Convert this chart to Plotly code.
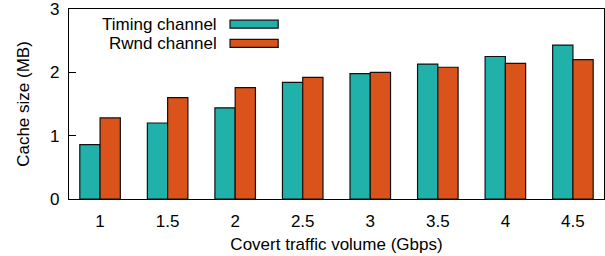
import plotly.graph_objects as go

categories = ["1", "1.5", "2", "2.5", "3", "3.5", "4", "4.5"]
timing_values = [0.86, 1.20, 1.44, 1.84, 1.98, 2.13, 2.25, 2.43]
rwnd_values = [1.28, 1.60, 1.76, 1.92, 2.00, 2.08, 2.14, 2.20]
series_names = ["Timing channel", "Rwnd channel"]
series_colors = ["#20B2AA", "#D9531A"]
y_ticks = [0, 1, 2, 3]

FONT = "Liberation Sans, Arial, Helvetica, sans-serif"

fig = go.Figure()
for name, vals, col in zip(series_names, [timing_values, rwnd_values], series_colors):
    fig.add_trace(go.Bar(
        x=categories, y=vals, name=name,
        marker=dict(color=col, line=dict(color="#111111", width=1.2)),
        showlegend=False,
    ))

# legend (text right-aligned, swatch on the right, gnuplot style)
sw_x0, sw_x1 = 0.301, 0.391
rows_y = [(0.899, 0.941), (0.798, 0.840)]
for (y0, y1), name, col in zip(rows_y, series_names, series_colors):
    fig.add_shape(type="rect", xref="paper", yref="paper",
                  x0=sw_x0, x1=sw_x1, y0=y0, y1=y1,
                  fillcolor=col, line=dict(color="#111111", width=1.2))
    fig.add_annotation(xref="paper", yref="paper", x=0.278, y=(y0 + y1) / 2,
                       text=name, showarrow=False, xanchor="right", yanchor="middle",
                       borderpad=0, valign="middle",
                       font=dict(family=FONT, size=17, color="black"))

fig.update_layout(
    width=605, height=256,
    margin=dict(l=69, r=1, t=9, b=57),
    paper_bgcolor="white", plot_bgcolor="white",
    barmode="group", bargap=0.4, bargroupgap=0,
    font=dict(family=FONT, size=17, color="black"),
    xaxis=dict(
        type="category", range=[-0.46, 7.46],
        showline=True, mirror=True, linecolor="black", linewidth=1.2,
        ticks="", showgrid=False, ticklabelstandoff=6,
        title=dict(text="Covert traffic volume (Gbps)", standoff=8,
                   font=dict(family=FONT, size=17)),
        tickfont=dict(family=FONT, size=17),
    ),
    yaxis=dict(
        range=[0, 3], tickvals=y_ticks, ticktext=[str(v) for v in y_ticks],
        showline=True, mirror=True, linecolor="black", linewidth=1.2,
        ticks="inside", ticklen=7, tickcolor="black", tickwidth=1,
        showgrid=False, zeroline=False, ticklabelstandoff=5,
        ticklabeloverflow="allow",
        title=dict(text="Cache size (MB)", standoff=16,
                   font=dict(family=FONT, size=17)),
        tickfont=dict(family=FONT, size=17),
    ),
)

fig.write_html("out.html", config={"displayModeBar": False},
               post_script="document.body.style.margin='0';")
